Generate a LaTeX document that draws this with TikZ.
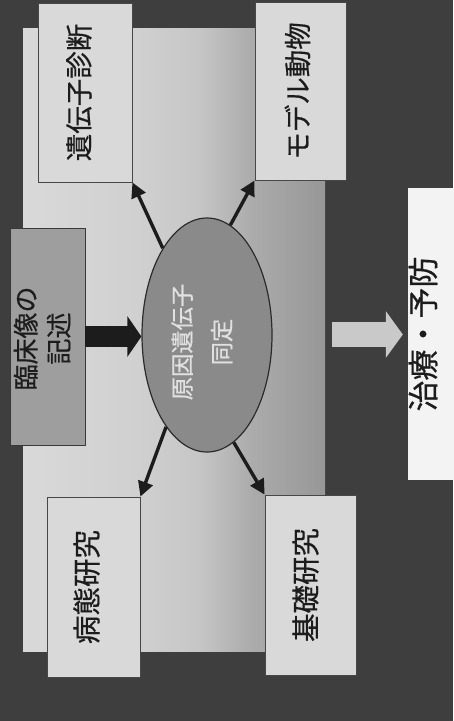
\documentclass[tikz,border=0pt]{standalone}
\usepackage{fontspec}
\usepackage{graphicx}
\newfontfamily\jpf{Noto Sans CJK JP}[FakeBold=0.5]
\usetikzlibrary{arrows.meta,shapes.geometric}
\definecolor{bgc}{HTML}{3E3E3E}
\definecolor{pa}{HTML}{D9D9D9}
\definecolor{pb}{HTML}{D0D0D0}
\definecolor{pc}{HTML}{C6C6C6}
\definecolor{pd}{HTML}{ABABAB}
\definecolor{pe}{HTML}{979797}
\definecolor{boxc}{HTML}{D9D9D9}
\definecolor{clinc}{HTML}{9E9E9E}
\definecolor{ellc}{HTML}{8A8A8A}
\definecolor{bord}{HTML}{474747}
\definecolor{txt}{HTML}{1C1C1C}
\definecolor{arrc}{HTML}{1C1C1C}
\definecolor{lightarr}{HTML}{C9C9C9}
\definecolor{treatc}{HTML}{F3F3F3}
\pgfdeclarehorizontalshading{panelshade}{100bp}{color(0bp)=(pa); color(25bp)=(pa); color(44bp)=(pb); color(54bp)=(pc); color(63bp)=(pd); color(75bp)=(pe); color(100bp)=(pe)}
% #1: shift towards page left, #2: shift towards page top, #3: text
\newcommand\rotshift[3]{\rotatebox{90}{\raisebox{#1}[\height][\depth]{\kern\dimexpr#2\relax #3\kern-\dimexpr#2\relax}}}
\begin{document}
\begin{tikzpicture}[x=1pt,y=-1pt,
  panelbox/.style={shading=panelshade, inner sep=0pt, minimum width=302pt, minimum height=623pt},
  box/.style={draw=bord, line width=0.8pt, fill=boxc, inner sep=0pt, text=txt,
    font=\jpf\fontsize{27.5}{32}\selectfont},
  clinbox/.style={box, fill=clinc, draw=bord!80!black, font=\jpf\fontsize{26}{33}\selectfont},
  treatbox/.style={fill=treatc, inner sep=0pt, text=txt, font=\jpf\fontsize{31}{36}\selectfont},
  causeell/.style={ellipse, draw=bord!60!black, line width=1.2pt, fill=ellc, inner sep=0pt,
    minimum width=130pt, minimum height=234pt, text=white!88!black,
    font=\jpf\fontsize{23.3}{27}\selectfont},
  thinarrow/.style={draw=arrc, line width=3.4pt, -{Triangle[length=15pt,width=15pt]}},
  bigarrow/.style={draw=arrc, line width=21pt, -{Triangle[length=14pt,width=40pt]}},
  lightarrow/.style={draw=lightarr, line width=25pt, -{Triangle[length=17pt,width=46pt]}}
]
\useasboundingbox (0,0) rectangle (453,721);
\fill[bgc] (0,0) rectangle (453,721);
\node[panelbox] (panel) at (174,339.5) {};
\node[box, minimum width=94pt, minimum height=179pt] (diag) at (85,92.5) {\rotshift{6pt}{0pt}{遺伝子診断}};
\node[box, minimum width=91pt, minimum height=178pt] (model) at (300.5,91) {\rotshift{3pt}{0pt}{モデル動物}};
\node[clinbox, minimum width=75pt, minimum height=217pt] (clin) at (47.5,336.5)
  {\rotshift{2pt}{-2pt}{\begin{tabular}{@{}c@{}}臨床像の\\記述\end{tabular}}};
\node[box, minimum width=93pt, minimum height=180pt] (patho) at (93.5,587) {\rotshift{7pt}{0pt}{\fontsize{28.5}{33}\selectfont 病態研究}};
\node[box, minimum width=91pt, minimum height=180pt] (basic) at (310.5,585) {\rotshift{5pt}{0pt}{\fontsize{28.5}{33}\selectfont 基礎研究}};
\node[treatbox, minimum width=46pt, minimum height=292pt] (treat) at (431,334) {\rotshift{8pt}{0pt}{治療・予防}};
\node[causeell] (cause) at (207,335)
  {\rotshift{2pt}{-7pt}{\begin{tabular}{@{}c@{}}原因遺伝子\\[12pt]同定\end{tabular}}};
\draw[bigarrow] (clin.east) -- (clin.east -| cause.west);
\coordinate (la) at ([xshift=7pt,yshift=5pt]panel.east);
\draw[lightarrow] (la) -- ([xshift=-5pt]la -| treat.west);
\draw[thinarrow] (cause.117) -- (diag.south east);
\draw[thinarrow] (cause.78) -- (model.south west);
\draw[thinarrow] (cause.246) -- (patho.north east);
\draw[thinarrow] (cause.284) -- (basic.north west);
\end{tikzpicture}
\end{document}
